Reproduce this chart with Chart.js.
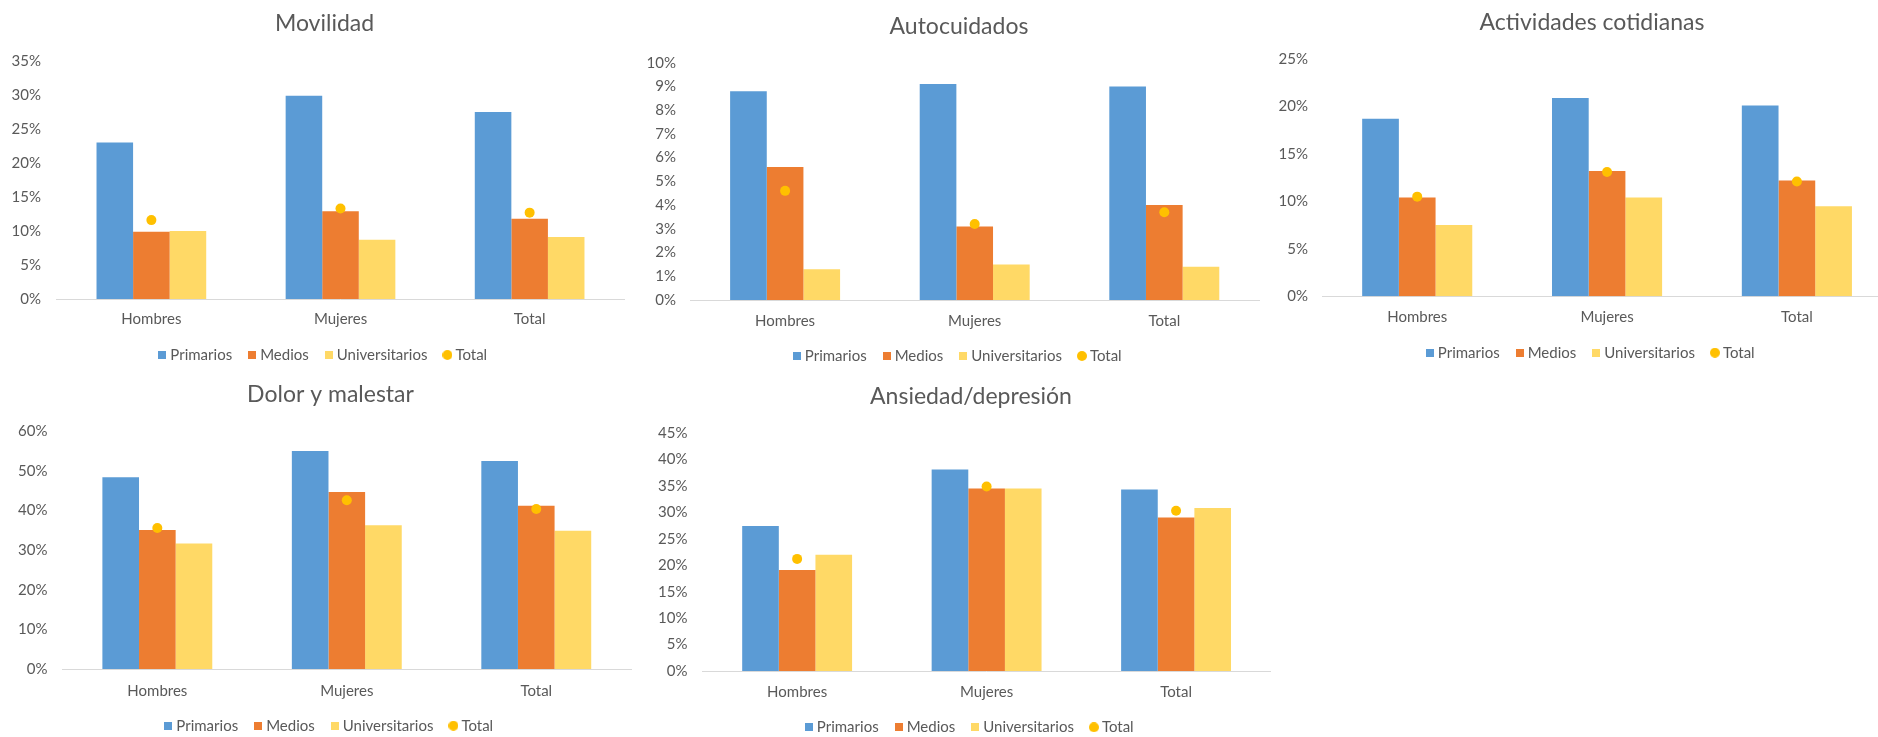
<!DOCTYPE html>
<html lang="es">
<head>
<meta charset="utf-8">
<title>Dimensiones de salud por nivel de estudios</title>
<script src="https://cdn.jsdelivr.net/npm/chart.js@4.4.1/dist/chart.umd.min.js"></script>
<style>
  html, body { margin: 0; padding: 0; width: 1878px; height: 737px; overflow: hidden; background: #ffffff; }
  .panel { position: absolute; }
</style>
</head>
<body>
<div class="panel" id="p-movilidad"><canvas></canvas></div>
<div class="panel" id="p-autocuidados"><canvas></canvas></div>
<div class="panel" id="p-actividades"><canvas></canvas></div>
<div class="panel" id="p-dolor"><canvas></canvas></div>
<div class="panel" id="p-ansiedad"><canvas></canvas></div>
<script>
// ---- Data (percentages) ----
const categories = ['Hombres', 'Mujeres', 'Total'];
const seriesNames = ['Primarios', 'Medios', 'Universitarios', 'Total'];

const movilidadPrimarios      = [23.0, 29.9, 27.5];
const movilidadMedios         = [9.9, 12.9, 11.8];
const movilidadUniversitarios = [10.0, 8.7, 9.1];
const movilidadTotal          = [11.6, 13.3, 12.7];
const movilidadTicks = ['0%', '5%', '10%', '15%', '20%', '25%', '30%', '35%'];

const autocuidadosPrimarios      = [8.8, 9.1, 9.0];
const autocuidadosMedios         = [5.6, 3.1, 4.0];
const autocuidadosUniversitarios = [1.3, 1.5, 1.4];
const autocuidadosTotal          = [4.6, 3.2, 3.7];
const autocuidadosTicks = ['0%', '1%', '2%', '3%', '4%', '5%', '6%', '7%', '8%', '9%', '10%'];

const actividadesPrimarios      = [18.7, 20.9, 20.1];
const actividadesMedios         = [10.4, 13.2, 12.2];
const actividadesUniversitarios = [7.5, 10.4, 9.5];
const actividadesTotal          = [10.5, 13.1, 12.1];
const actividadesTicks = ['0%', '5%', '10%', '15%', '20%', '25%'];

const dolorPrimarios      = [48.4, 55.0, 52.5];
const dolorMedios         = [35.1, 44.7, 41.2];
const dolorUniversitarios = [31.7, 36.3, 34.9];
const dolorTotal          = [35.6, 42.6, 40.4];
const dolorTicks = ['0%', '10%', '20%', '30%', '40%', '50%', '60%'];

const ansiedadPrimarios      = [27.4, 38.1, 34.3];
const ansiedadMedios         = [19.1, 34.5, 29.0];
const ansiedadUniversitarios = [22.0, 34.5, 30.8];
const ansiedadTotal          = [21.2, 34.9, 30.3];
const ansiedadTicks = ['0%', '5%', '10%', '15%', '20%', '25%', '30%', '35%', '40%', '45%'];

// ---- Styling ----
const COLORS = ['#5B9BD5', '#ED7D31', '#FFD966', '#FFC000'];
const TEXT = '#595959';
const FONT = 'Lato, "Open Sans", sans-serif';

Chart.defaults.font.family = FONT;
Chart.defaults.color = TEXT;

// Small legend markers: squares for the bars, a dot for the total series
function legendMark(color, round) {
  const size = round ? 10 : 8;
  const c = document.createElement('canvas');
  c.width = size; c.height = size;
  const g = c.getContext('2d');
  g.fillStyle = color;
  if (round) { g.beginPath(); g.arc(size / 2, size / 2, size / 2, 0, Math.PI * 2); g.fill(); }
  else { g.fillRect(0, 0, size, size); }
  return c;
}
const marks = [legendMark(COLORS[0]), legendMark(COLORS[1]), legendMark(COLORS[2]), legendMark(COLORS[3], true)];

function drawPanel(id, frame, title, primarios, medios, universitarios, total, tickLabels) {
  const box = document.getElementById(id);
  Object.assign(box.style, {
    left: frame.left + 'px', top: frame.top + 'px',
    width: frame.width + 'px', height: frame.height + 'px'
  });
  const canvas = box.querySelector('canvas');
  const max = parseFloat(tickLabels[tickLabels.length - 1]);
  const step = parseFloat(tickLabels[1]) - parseFloat(tickLabels[0]);
  const bar = (i, data) => ({
    label: seriesNames[i], data, backgroundColor: COLORS[i], borderWidth: 0,
    categoryPercentage: 0.58, barPercentage: 1, order: 1
  });

  return new Chart(canvas, {
    type: 'bar',
    data: {
      labels: categories,
      datasets: [
        bar(0, primarios),
        bar(1, medios),
        bar(2, universitarios),
        {
          type: 'line', label: seriesNames[3], data: total, showLine: false,
          pointRadius: 5, pointHoverRadius: 5, pointBorderWidth: 0,
          pointBackgroundColor: COLORS[3], backgroundColor: COLORS[3], borderColor: COLORS[3],
          order: 0
        }
      ]
    },
    options: {
      responsive: true,
      maintainAspectRatio: false,
      animation: false,
      events: [],
      layout: { padding: { left: 0, right: 0, top: frame.padTop, bottom: frame.padBottom } },
      plugins: {
        title: {
          display: true, text: title, color: TEXT,
          font: { family: FONT, size: 23, weight: 'normal', lineHeight: 1.2 },
          padding: { top: 0, bottom: frame.titleGap }
        },
        legend: {
          position: 'bottom',
          labels: {
            usePointStyle: true, boxWidth: 1, padding: 19.5, color: TEXT,
            font: { family: FONT, size: 15 },
            generateLabels: (chart) => chart.data.datasets.map((ds, i) => ({
              text: ds.label, pointStyle: marks[i], fillStyle: COLORS[i],
              strokeStyle: COLORS[i], lineWidth: 0, fontColor: TEXT,
              hidden: !chart.isDatasetVisible(i), datasetIndex: i
            }))
          }
        },
        tooltip: { enabled: false }
      },
      scales: {
        x: {
          grid: { display: false, drawTicks: false },
          border: { display: true, color: '#D9D9D9', width: 1 },
          ticks: { color: TEXT, font: { family: FONT, size: 15 }, padding: frame.xPad },
          afterFit: (s) => { s.height = frame.xHeight; }
        },
        y: {
          min: 0, max,
          grid: { display: false, drawTicks: false },
          border: { display: false },
          ticks: {
            stepSize: step, color: TEXT, padding: frame.tickGap,
            font: { family: FONT, size: 15 },
            callback: (v, i) => tickLabels[i]
          },
          afterFit: (s) => { s.width = frame.yWidth; }
        },
        // empty right-hand margin so the title and legend centre over the whole panel
        margin: {
          type: 'linear', position: 'right', display: true,
          grid: { display: false, drawTicks: false },
          border: { display: false },
          ticks: { display: false },
          afterFit: (s) => { s.width = frame.rightGap; }
        }
      }
    }
  });
}

drawPanel('p-movilidad',
  { left: 0, top: 0, width: 649, height: 373, padTop: 10.2, padBottom: 0.5, yWidth: 56.8, rightGap: 24.8, tickGap: 15.8, titleGap: 23.2, xPad: 11, xHeight: 29 },
  'Movilidad', movilidadPrimarios, movilidadMedios, movilidadUniversitarios, movilidadTotal, movilidadTicks);

drawPanel('p-autocuidados',
  { left: 640, top: 0, width: 638, height: 374, padTop: 12.9, padBottom: 0.5, yWidth: 50.3, rightGap: 18.9, tickGap: 14.3, titleGap: 22.2, xPad: 12, xHeight: 29 },
  'Autocuidados', autocuidadosPrimarios, autocuidadosMedios, autocuidadosUniversitarios, autocuidadosTotal, autocuidadosTicks);

drawPanel('p-actividades',
  { left: 1275, top: 0, width: 634, height: 371, padTop: 8.9, padBottom: 0.8, yWidth: 47.3, rightGap: 17.2, tickGap: 14.3, titleGap: 22.5, xPad: 11.4, xHeight: 29.4 },
  'Actividades cotidianas', actividadesPrimarios, actividadesMedios, actividadesUniversitarios, actividadesTotal, actividadesTicks);

drawPanel('p-dolor',
  { left: 0, top: 370, width: 661, height: 374, padTop: 11.2, padBottom: 0.8, yWidth: 62.6, rightGap: 30, tickGap: 15.2, titleGap: 22.5, xPad: 12.7, xHeight: 29.7 },
  'Dolor y malestar', dolorPrimarios, dolorMedios, dolorUniversitarios, dolorTotal, dolorTicks);

drawPanel('p-ansiedad',
  { left: 650, top: 370, width: 642, height: 375, padTop: 12.9, padBottom: 0.2, yWidth: 52.4, rightGap: 21.2, tickGap: 15, titleGap: 22.5, xPad: 11.7, xHeight: 29.3 },
  'Ansiedad/depresión', ansiedadPrimarios, ansiedadMedios, ansiedadUniversitarios, ansiedadTotal, ansiedadTicks);
</script>
</body>
</html>
